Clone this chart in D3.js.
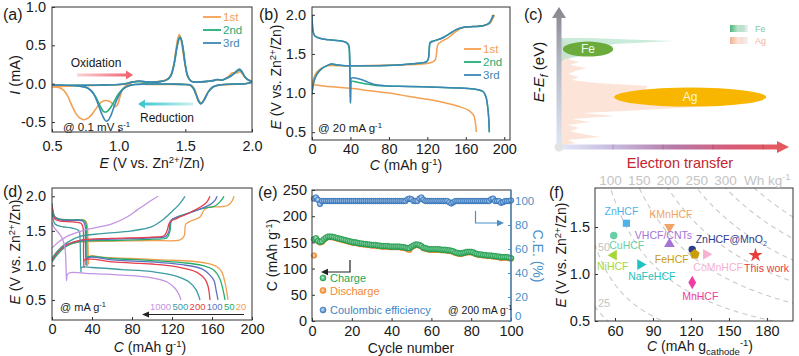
<!DOCTYPE html>
<html><head><meta charset="utf-8">
<script src="https://cdn.jsdelivr.net/npm/d3@7/dist/d3.min.js"></script>
<style>html,body{margin:0;padding:0;background:#fff;}svg{display:block;}</style>
</head><body>
<svg id="fig" width="799" height="356" xmlns="http://www.w3.org/2000/svg"></svg>
<script>
// ================= DATA =================
// (a) cyclic voltammetry [E (V), I (mA)] in sweep order
const cvCycle1 = [[1.10,0.0],[1.06,-0.02],[1.03,-0.07],[1.01,-0.17],[0.99,-0.28],[0.975,-0.30],[0.96,-0.27],[0.93,-0.23],[0.90,-0.22],[0.87,-0.24],[0.84,-0.30],[0.80,-0.40],[0.77,-0.45],[0.74,-0.47],[0.71,-0.45],[0.68,-0.39],[0.65,-0.29],[0.62,-0.17],[0.59,-0.09],[0.55,-0.05],[0.50,-0.04],
  [0.55,-0.035],[0.65,-0.03],[0.75,-0.025],[0.85,-0.02],[0.95,-0.015],[1.02,-0.01],[1.08,0.01],[1.14,0.03],[1.20,0.02],[1.28,0.025],[1.34,0.04],[1.38,0.08],[1.41,0.22],[1.43,0.45],[1.445,0.60],[1.455,0.64],[1.465,0.60],[1.48,0.44],[1.50,0.22],[1.52,0.08],[1.55,0.03],[1.62,0.02],[1.70,0.04],[1.75,0.05],[1.78,0.05],[1.82,0.09],[1.85,0.14],[1.87,0.14],[1.89,0.14],[1.91,0.16],[1.93,0.12],[1.96,0.06],[2.0,0.03],
  [1.95,0.0],[1.85,-0.01],[1.75,-0.02],[1.70,-0.05],[1.67,-0.11],[1.645,-0.20],[1.625,-0.25],[1.61,-0.24],[1.59,-0.17],[1.57,-0.07],[1.55,-0.03],[1.50,-0.01],[1.40,-0.01],[1.30,-0.01],[1.20,-0.01]];
const cvCycle2 = [[0.5,-0.02],[0.6,-0.02],[0.7,-0.02],[0.8,-0.02],[0.9,-0.015],[1.0,-0.01],[1.05,0.0],[1.1,0.02],[1.15,0.03],[1.2,0.02],[1.27,0.02],[1.32,0.03],[1.36,0.05],[1.39,0.1],[1.415,0.25],[1.435,0.46],[1.45,0.58],[1.46,0.61],[1.47,0.58],[1.485,0.44],[1.50,0.25],[1.52,0.09],[1.545,0.03],[1.6,0.02],[1.66,0.03],[1.71,0.04],[1.74,0.055],[1.77,0.045],[1.81,0.07],[1.85,0.11],[1.88,0.15],[1.905,0.18],[1.925,0.15],[1.95,0.08],[1.98,0.04],[2.0,0.02],
  [1.95,0.0],[1.85,-0.005],[1.76,-0.015],[1.71,-0.04],[1.675,-0.10],[1.65,-0.18],[1.63,-0.24],[1.615,-0.26],[1.60,-0.23],[1.58,-0.14],[1.56,-0.06],[1.54,-0.02],[1.5,-0.01],[1.4,-0.005],[1.3,-0.005],[1.2,-0.005],[1.12,-0.01],[1.07,-0.03],[1.03,-0.07],[1.0,-0.13],[0.97,-0.22],[0.94,-0.31],[0.915,-0.36],[0.9,-0.37],[0.885,-0.36],[0.86,-0.29],[0.83,-0.18],[0.8,-0.10],[0.76,-0.05],[0.7,-0.03],[0.6,-0.02],[0.5,-0.02]];
const cvCycle3 = [[0.5,-0.02],[0.6,-0.02],[0.7,-0.02],[0.8,-0.02],[0.9,-0.015],[1.0,-0.01],[1.05,0.0],[1.1,0.02],[1.16,0.035],[1.2,0.025],[1.27,0.02],[1.32,0.03],[1.36,0.05],[1.39,0.1],[1.415,0.25],[1.435,0.45],[1.45,0.57],[1.46,0.60],[1.47,0.57],[1.485,0.43],[1.50,0.24],[1.52,0.09],[1.545,0.03],[1.6,0.02],[1.66,0.03],[1.71,0.04],[1.74,0.055],[1.77,0.045],[1.81,0.07],[1.85,0.11],[1.88,0.16],[1.905,0.19],[1.925,0.16],[1.95,0.08],[1.98,0.04],[2.0,0.02],
  [1.95,0.0],[1.85,-0.005],[1.76,-0.015],[1.71,-0.04],[1.675,-0.10],[1.65,-0.18],[1.63,-0.24],[1.615,-0.265],[1.60,-0.23],[1.58,-0.14],[1.56,-0.06],[1.54,-0.02],[1.5,-0.01],[1.4,-0.005],[1.3,-0.005],[1.2,-0.005],[1.12,-0.01],[1.07,-0.03],[1.03,-0.08],[1.0,-0.16],[0.97,-0.28],[0.945,-0.40],[0.925,-0.47],[0.91,-0.49],[0.895,-0.47],[0.87,-0.38],[0.84,-0.24],[0.81,-0.13],[0.77,-0.06],[0.7,-0.03],[0.6,-0.02],[0.5,-0.02]];
const cycleLabels = ["1st","2nd","3rd"];
const aXTicks = [0.5,1.0,1.5,2.0];
const aYTicks = [-0.5,0.0,0.5,1.0];

// (b) galvanostatic profiles [C (mAh/g), E (V)]
const b1Charge = [[0,1.1],[2,1.2],[5,1.27],[10,1.32],[16,1.35],[25,1.35],[50,1.35],[90,1.36],[115,1.37],[124,1.39],[128,1.42],[129.5,1.5],[131,1.62],[135,1.66],[142,1.71],[150,1.79],[158,1.84],[168,1.85],[178,1.86],[185,1.89],[188,1.95],[190,2.0]];
const b1Discharge = [[0,1.11],[20,1.08],[40,1.06],[60,1.03],[80,1.0],[100,0.96],[120,0.92],[140,0.87],[155,0.82],[163,0.78],[168,0.72],[170,0.62],[171,0.5]];
const b2Charge = [[0,1.0],[0.8,1.08],[2.5,1.17],[5,1.24],[9,1.3],[14,1.34],[20,1.37],[26,1.36],[35,1.35],[60,1.35],[90,1.36],[110,1.38],[119,1.4],[121,1.44],[122,1.57],[123,1.65],[128,1.67],[135,1.7],[142,1.75],[150,1.81],[158,1.84],[168,1.85],[178,1.86],[184,1.89],[187,1.95],[188,2.0]];
const b2Discharge = [[0,2.0],[0.4,1.88],[1.2,1.78],[3,1.73],[8,1.7],[18,1.68],[28,1.67],[35,1.65],[38,1.61],[39,1.45],[39.5,1.15],[40,0.87],[40.3,1.05],[41,1.15],[46,1.14],[55,1.12],[65,1.1],[75,1.09],[100,1.085],[130,1.075],[155,1.065],[170,1.05],[178,1.02],[181,0.95],[183,0.8],[184,0.65],[184.5,0.5]];
const b3Charge = [[0,0.98],[0.8,1.07],[2.5,1.17],[5,1.24],[9,1.3],[14,1.34],[20,1.37],[26,1.36],[35,1.35],[60,1.35],[90,1.36],[110,1.38],[119,1.4],[121,1.43],[122,1.55],[123,1.64],[128,1.67],[135,1.7],[142,1.75],[150,1.81],[158,1.84],[168,1.85],[178,1.86],[184,1.89],[187,1.95],[189,2.0]];
const b3Discharge = [[0,2.0],[0.4,1.88],[1.2,1.78],[3,1.73],[8,1.7],[18,1.68],[28,1.67],[35,1.65],[38,1.62],[39.2,1.5],[39.6,1.2],[40,0.88],[40.3,1.1],[41,1.19],[46,1.19],[52,1.17],[58,1.14],[65,1.11],[75,1.095],[100,1.085],[130,1.075],[155,1.065],[170,1.05],[178,1.02],[181,0.95],[183,0.8],[184,0.65],[184.5,0.5]];
const bXTicks = [0,40,80,120,160,200];
const bYTicks = [0.5,1.0,1.5,2.0];

// (c) schematic density of states: level index (bottom->top) and relative intensity
const cLevels = [0,1,2,3,4,5,6,7,8,9,10,11,12,13,14,15,16,17,18,19,20,21,22,23,24,25,26,27,28,29,30,31,32,33,34,35,36];
const agDos = [0,0.08,0.04,0.22,0.12,0.05,0.10,0.04,0.16,0.06,0.30,0.12,0.45,0.75,0.82,0.80,0.72,0.70,0.55,0.47,0.48,0.20,0.06,0.10,0.04,0.08,0.14,0.05,0.10,0.04,0.07,0.03,0.06,0.03,0.05,0.02,0];
const feDos = [0,0,0,0,0,0,0,0,0,0,0,0,0,0,0,0,0,0,0,0,0,0,0,0,0,0,0,0,0,0.02,0.12,0.18,0.20,0.22,0.30,0.62,0.15];
const cOrbitalNames = ["Fe","Ag"];
const cOrbitalLevel = [32.3,16.3];
const cOrbitalFrom = [0.01,0.295];
const cOrbitalTo = [0.29,1.14];

// (d) rate profiles [C, E]
const dRates = ["1000","500","200","100","50","20"];
const charge1000 = [[0,1.25],[5,1.32],[15,1.42],[30,1.5],[45,1.55],[60,1.6],[75,1.7],[85,1.8],[95,1.9],[106,2.0]];
const discharge1000 = [[0,1.62],[2,1.55],[6,1.48],[10,1.4],[13,1.25],[14,1.0],[14.5,0.78],[15,0.85],[17,0.89],[40,0.88],[70,0.86],[100,0.82],[115,0.76],[123,0.67],[127,0.58],[129,0.5]];
const charge500 = [[0,1.1],[5,1.2],[15,1.33],[28,1.42],[50,1.46],[80,1.5],[100,1.56],[110,1.65],[120,1.78],[127,1.88],[133,2.0]];
const discharge500 = [[0,1.8],[1,1.68],[3,1.6],[10,1.56],[20,1.54],[27,1.5],[28,1.4],[28.5,1.1],[29,0.9],[29.5,0.97],[40,0.97],[70,0.94],[100,0.91],[125,0.84],[138,0.75],[144,0.65],[148,0.5]];
const charge200 = [[0,1.08],[5,1.18],[15,1.3],[30,1.37],[60,1.39],[100,1.41],[112,1.43],[115,1.5],[118,1.63],[125,1.68],[140,1.78],[150,1.86],[155,1.92],[158,2.0]];
const discharge200 = [[0,1.86],[1,1.74],[3,1.67],[8,1.64],[20,1.63],[29,1.61],[31,1.55],[31.5,1.2],[32,0.97],[32.5,1.08],[40,1.09],[60,1.05],[100,1.02],[125,0.98],[145,0.9],[153,0.8],[156,0.7],[158,0.5]];
const charge100 = [[0,1.08],[5,1.18],[15,1.3],[30,1.36],[60,1.38],[100,1.4],[114,1.42],[117,1.5],[119,1.65],[130,1.72],[145,1.8],[158,1.88],[163,1.94],[165,2.0]];
const discharge100 = [[0,1.88],[1,1.76],[3,1.69],[8,1.66],[20,1.65],[31,1.64],[33,1.58],[33.5,1.3],[34,1.0],[34.5,1.1],[40,1.12],[60,1.08],[100,1.05],[130,1.01],[150,0.95],[158,0.86],[162,0.78],[164,0.65],[166,0.5]];
const charge50 = [[0,1.05],[5,1.15],[15,1.28],[30,1.35],[60,1.36],[100,1.38],[115,1.4],[118,1.5],[120,1.66],[135,1.75],[150,1.82],[163,1.86],[168,1.92],[172,2.0]];
const discharge50 = [[0,1.9],[1,1.78],[3,1.7],[8,1.67],[20,1.66],[32,1.65],[34,1.6],[34.8,1.3],[35,1.0],[35.5,1.12],[40,1.13],[60,1.1],[100,1.07],[130,1.04],[150,1.0],[162,0.93],[168,0.8],[171,0.65],[173,0.5]];
const charge20 = [[0,1.08],[5,1.2],[15,1.3],[30,1.34],[60,1.35],[100,1.36],[128,1.37],[132,1.42],[134,1.6],[140,1.65],[148,1.7],[152,1.8],[156,1.84],[170,1.85],[176,1.87],[180,1.93],[182,2.0]];
const discharge20 = [[0,1.9],[1,1.78],[3,1.7],[8,1.67],[20,1.66],[33,1.65],[35,1.6],[36,1.3],[36.5,1.02],[37,1.12],[40,1.14],[50,1.12],[80,1.1],[110,1.08],[140,1.06],[155,1.03],[165,0.98],[170,0.9],[173,0.75],[175,0.6],[176,0.5]];
const dXTicks = [0,40,80,120,160,200];
const dYTicks = [0.5,1.0,1.5,2.0];

// (e) cycling at 200 mA/g
const eCycles = d3.range(1,101);
const eCharge = [156,158,153,151,152,156,159,161,161,161, 160,159,158,157,156,155,154,153,152,151, 150,150,149,148,148,147,147,146,146,145, 145,145,144,144,143,143,143,143,142,142,
  142,142,142,142,141,141,140,139,139,142, 144,146,146,145,143,140,139,138,137,137, 137,137,137,137,136,136,136,135,135,134, 133,131,130,129,129,130,131,132,132,132,
  131,129,128,127,127,126,126,125,125,125, 124,124,123,123,122,122,122,122,121,120];
const eDischarge = [125,157,152,150,151,155,158,160,160,160, 159,158,157,156,155,154,153,152,151,150, 149,149,148,147,147,146,146,145,145,144, 144,144,143,143,142,142,142,142,141,141,
  141,141,141,141,140,140,139,137,136,141, 143,145,145,144,142,139,138,137,136,136, 136,136,136,136,135,135,135,134,134,133, 132,130,129,128,128,129,130,131,131,131,
  130,128,127,126,126,125,125,124,124,124, 123,123,122,122,120,121,121,121,120,119];
const eCE = [102,103,101,97.5,100,100,100,100,100,100, 100,100,100,100,100,100,100,100,100,100, 100,100,100,100,100,100,100,100,100,100, 100,100,100,100,100,100,100,100,100,100,
  100,100,100,100,100,100,100,101.5,102,101.5, 100,100,100,102,103,101,100,100,100,100, 100,100,100,100,100,100,100,100,99,98, 99,100,100,100,100,100,100,100,100,100,
  100,100,100,100,100,100,100,100,100,101.5, 102,100,100,100,98.5,99,100,100,100,100.5];
const eXTicks = [0,20,40,60,80,100];
const eYTicks = [0,50,100,150,200,250];
const eY2Ticks = [0,20,40,60,80,100];
const eLegend = ["Charge","Discharge","Coulombic efficiency"];

// (f) comparison of cathodes
const fNames = ["ZnHCF","KMnHCF","CuHCF","VHCF/CNTs","ZnHCF@MnO2","FeHCF","CoMnHCF","This work","NiHCF","NaFeHCF","MnHCF"];
const fCapacity = [69,103,59,103,121,123,132,171,59,80,121];
const fVoltage = [1.54,1.50,1.41,1.32,1.26,1.21,1.21,1.20,1.20,1.10,0.91];
const fEnergyLevels = [25,50,100,150,200,250,300,350];
const fTopLabels = [100,150,200,250,300];
const fXTicks = [60,90,120,150,180];
const fYTicks = [0.5,1.0,1.5];

// ================= STYLES =================
const FONT = '"Liberation Sans", Arial, Helvetica, sans-serif';
const cycColors = ["#f4a052","#22ae78","#3d86b6"];
const rateColors = {"1000":"#c394e3","500":"#3b9ca2","200":"#e63e4a","100":"#6070c2","50":"#22ad6c","20":"#f2a04e"};
const fStyle = {
  "ZnHCF":{shape:"square",color:"#4fb3ea",lab:[-5,-12]},
  "KMnHCF":{shape:"down",color:"#f2a366",lab:[1.5,-12.5]},
  "CuHCF":{shape:"circle",color:"#66d1a6",lab:[13,10]},
  "VHCF/CNTs":{shape:"up",color:"#a474d8",lab:[-6,-9]},
  "ZnHCF@MnO2":{shape:"circle",color:"#2f3b8e",lab:[39,-10]},
  "FeHCF":{shape:"pentagon",color:"#c99d0a",lab:[-23,5]},
  "CoMnHCF":{shape:"right",color:"#f6b0d2",lab:[12,13]},
  "This work":{shape:"star",color:"#e83c3c",lab:[11,13.5]},
  "NiHCF":{shape:"left",color:"#a6d83c",lab:[-1,11]},
  "NaFeHCF":{shape:"right",color:"#22c2c2",lab:[11.5,12]},
  "MnHCF":{shape:"diamond",color:"#f03ca2",lab:[8,14]}
};

// ================= HELPERS =================
const svg = d3.select("#fig");
svg.append("rect").attr("width",799).attr("height",356).attr("fill","#fff");
const defs = svg.append("defs");
let clipN = 0;

function rich(parent, x, y, parts, o) {
  o = o || {};
  const size = o.size || 14;
  const t = parent.append("text").attr("font-family", FONT).attr("font-size", size)
    .attr("fill", o.fill || "#1a1a1a").attr("text-anchor", o.anchor || "middle");
  if (o.rotate) t.attr("transform", `translate(${x},${y}) rotate(${o.rotate})`);
  else t.attr("x", x).attr("y", y);
  let cur = 0;
  parts.forEach(p => {
    if (typeof p === "string") p = {t: p};
    const target = p.sup ? -size * 0.36 : (p.sub ? size * 0.28 : 0);
    const s = t.append("tspan").text(p.t).attr("dy", (target - cur).toFixed(2));
    cur = target;
    if (p.sup || p.sub) s.attr("font-size", (size * 0.68).toFixed(1));
    if (p.i) s.attr("font-style", "italic");
  });
  return t;
}
function panel(b, xd, yd) {
  const x = d3.scaleLinear().domain(xd).range([b.l, b.r]);
  const y = d3.scaleLinear().domain(yd).range([b.b, b.t]);
  const g = svg.append("g");
  const id = "clip" + (++clipN);
  defs.append("clipPath").attr("id", id).append("rect")
    .attr("x", b.l).attr("y", b.t).attr("width", b.r - b.l).attr("height", b.b - b.t);
  const plot = g.append("g").attr("clip-path", `url(#${id})`);
  return {x, y, g, plot, b};
}
function frame(P) {
  P.g.append("rect").attr("x", P.b.l).attr("y", P.b.t).attr("width", P.b.r - P.b.l)
    .attr("height", P.b.b - P.b.t).attr("fill", "none").attr("stroke", "#333").attr("stroke-width", 1);
}
function styleAxis(sel, color, size) {
  sel.select(".domain").remove();
  sel.selectAll("line").attr("stroke", color || "#333");
  sel.selectAll("text").attr("font-family", FONT).attr("font-size", size || 14.5).attr("fill", color || "#1a1a1a");
}
function axes(P, xt, yt, xf, yf, padB, padL) {
  P.g.append("g").attr("transform", `translate(0,${P.b.b})`)
    .call(d3.axisBottom(P.x).tickValues(xt).tickFormat(xf).tickSize(-3).tickPadding(padB))
    .call(s => styleAxis(s));
  P.g.append("g").attr("transform", `translate(${P.b.l},0)`)
    .call(d3.axisLeft(P.y).tickValues(yt).tickFormat(yf).tickSize(-3).tickPadding(padL))
    .call(s => styleAxis(s));
}
function lineOf(P) {
  return d3.line().x(d => P.x(d[0])).y(d => P.y(d[1])).curve(d3.curveCatmullRom.alpha(0.5));
}
function panelLetter(x, y, t) {
  svg.append("text").attr("x", x).attr("y", y).attr("font-family", FONT).attr("font-size", 16)
    .attr("fill", "#1a1a1a").text(t);
}
const f1 = d => d.toFixed(1);
const EZn = [{t:"E",i:true}," (V vs. Zn",{t:"2+",sup:true},"/Zn)"];
const CmAh = [{t:"C",i:true}," (mAh g",{t:"-1",sup:true},")"];

// ================= (a) =================
{
  const P = panel({l:52, r:252, t:7, b:132}, [0.5, 2.0], [-0.63, 1.0]);
  const ln = lineOf(P);
  [cvCycle1, cvCycle2, cvCycle3].forEach((d, i) => {
    P.plot.append("path").attr("d", ln(d)).attr("fill", "none")
      .attr("stroke", cycColors[i]).attr("stroke-width", 1.6).attr("stroke-linejoin", "round");
  });
  frame(P);
  axes(P, aXTicks, aYTicks, f1, f1, 9, 6);
  cycleLabels.forEach((lab, i) => {
    const yy = [17, 30, 43][i];
    P.g.append("line").attr("x1", 203).attr("x2", 221).attr("y1", yy).attr("y2", yy)
      .attr("stroke", cycColors[i]).attr("stroke-width", 1.8);
    P.g.append("text").attr("x", 223).attr("y", yy + 4).attr("font-family", FONT).attr("font-size", 11.5)
      .attr("fill", cycColors[i]).text(lab);
  });
  const gOx = defs.append("linearGradient").attr("id", "gOx");
  gOx.append("stop").attr("offset", 0).attr("stop-color", "#fbd3d8");
  gOx.append("stop").attr("offset", 1).attr("stop-color", "#ef5d6a");
  P.g.append("path").attr("d", "M77,73.6 H126 V70.5 L133,75 L126,79.5 V76.4 H77 Z").attr("fill", "url(#gOx)");
  P.g.append("text").attr("x", 96).attr("y", 66.5).attr("text-anchor", "middle").attr("font-family", FONT)
    .attr("font-size", 12).attr("fill", "#1a1a1a").text("Oxidation");
  const gRe = defs.append("linearGradient").attr("id", "gRe");
  gRe.append("stop").attr("offset", 0).attr("stop-color", "#36c4cc");
  gRe.append("stop").attr("offset", 1).attr("stop-color", "#c8f1f1");
  P.g.append("path").attr("d", "M193,102.6 H145 V99.5 L138,104 L145,108.5 V105.4 H193 Z").attr("fill", "url(#gRe)");
  P.g.append("text").attr("x", 167).attr("y", 121.5).attr("text-anchor", "middle").attr("font-family", FONT)
    .attr("font-size", 12).attr("fill", "#1a1a1a").text("Reduction");
  rich(P.g, 63, 131, ["@ 0.1 mV s", {t:"-1", sup:true}], {size:11.5, anchor:"start"});
  rich(P.g, 20, 75, [{t:"I", i:true}, " (mA)"], {size:14.5, rotate:-90});
  rich(P.g, 152, 168, EZn, {size:14});
  panelLetter(3, 20, "(a)");
}

// ================= (b) =================
{
  const P = panel({l:312, r:510, t:7, b:140}, [0, 206], [0.4, 2.1]);
  const ln = lineOf(P);
  const sets = [[b1Charge, b1Discharge], [b2Charge, b2Discharge], [b3Charge, b3Discharge]];
  sets.forEach((s, i) => s.forEach(d => {
    P.plot.append("path").attr("d", ln(d)).attr("fill", "none")
      .attr("stroke", cycColors[i]).attr("stroke-width", 1.5).attr("stroke-linejoin", "round");
  }));
  frame(P);
  axes(P, bXTicks, bYTicks, d3.format("d"), f1, 4, 6);
  cycleLabels.forEach((lab, i) => {
    const yy = [49, 62, 75][i];
    P.g.append("line").attr("x1", 464).attr("x2", 481).attr("y1", yy).attr("y2", yy)
      .attr("stroke", cycColors[i]).attr("stroke-width", 1.8);
    P.g.append("text").attr("x", 483).attr("y", yy + 4).attr("font-family", FONT).attr("font-size", 11.5)
      .attr("fill", cycColors[i]).text(lab);
  });
  rich(P.g, 318, 132, ["@ 20 mA g", {t:"-1", sup:true}], {size:11.5, anchor:"start"});
  rich(P.g, 281, 77, EZn, {size:14, rotate:-90});
  rich(P.g, 406, 170, CmAh, {size:14});
  panelLetter(259, 20, "(b)");
}

// ================= (c) =================
{
  const g = svg.append("g");
  const cx = d3.scaleLinear().domain([0, 1]).range([561, 741]);
  const cy = d3.scaleLinear().domain([0, 36]).range([146, 38]);
  const area = d3.area().y(d => cy(d[0])).x0(cx(0)).x1(d => cx(d[1])).curve(d3.curveLinear);
  g.append("path").attr("d", area(cLevels.map((l, i) => [l, agDos[i]])))
    .attr("fill", "#f9cdb8").attr("opacity", 0.55);
  g.append("path").attr("d", area(cLevels.map((l, i) => [l, feDos[i]])))
    .attr("fill", "#b4e2cb").attr("opacity", 0.7);
  const gV = defs.append("linearGradient").attr("id", "gV").attr("x1", 0).attr("y1", 1).attr("x2", 0).attr("y2", 0);
  gV.append("stop").attr("offset", 0).attr("stop-color", "#dfe6f6");
  gV.append("stop").attr("offset", 0.6).attr("stop-color", "#b4b8c6");
  gV.append("stop").attr("offset", 1).attr("stop-color", "#86868c");
  const gH = defs.append("linearGradient").attr("id", "gH");
  [["0","#e2e9f8"],["0.25","#c6b7dc"],["0.5","#b67aa8"],["0.75","#d75c79"],["1","#e65858"]]
    .forEach(s => gH.append("stop").attr("offset", s[0]).attr("stop-color", s[1]));
  g.append("path").attr("d", "M559,144.5 H777 V141 L789,147 L777,153 V149.5 H559 Z").attr("fill", "url(#gH)");
  [613, 663, 713, 763].forEach(xx => g.append("line").attr("x1", xx).attr("x2", xx)
    .attr("y1", 144.5).attr("y2", 149.5).attr("stroke", "#7a3050").attr("stroke-opacity", 0.3).attr("stroke-width", 1));
  g.append("path").attr("d", "M556.5,147 V18 H552 L559,7 L566,18 H561.5 V147 Z").attr("fill", "url(#gV)");
  g.append("circle").attr("cx", 559).attr("cy", 147).attr("r", 4.5).attr("fill", "#e3e3e6");
  const ell = [{c:"#6aab3b", tc:"#f3f8ee"}, {c:"#f8b600", tc:"#fff6dc"}];
  cOrbitalNames.forEach((n, i) => {
    const x0 = cx(cOrbitalFrom[i]), x1 = cx(cOrbitalTo[i]);
    const ry = i === 0 ? 7.5 : 9.5;
    g.append("ellipse").attr("cx", (x0 + x1) / 2).attr("cy", cy(cOrbitalLevel[i]))
      .attr("rx", (x1 - x0) / 2).attr("ry", ry).attr("fill", ell[i].c);
    g.append("text").attr("x", (x0 + x1) / 2).attr("y", cy(cOrbitalLevel[i]) + 4.3).attr("text-anchor", "middle")
      .attr("font-family", FONT).attr("font-size", 12).attr("fill", ell[i].tc).text(n);
  });
  const lg = [["#4cb47c", "#86c6a4", 25], ["#f4b096", "#efb59e", 37]];
  cOrbitalNames.forEach((n, i) => {
    const gid = "gL" + i;
    const gr = defs.append("linearGradient").attr("id", gid);
    gr.append("stop").attr("offset", 0).attr("stop-color", lg[i][0]);
    gr.append("stop").attr("offset", 0.45).attr("stop-color", lg[i][0]).attr("stop-opacity", 0.35);
    gr.append("stop").attr("offset", 1).attr("stop-color", "#f4f4fa");
    g.append("rect").attr("x", 730).attr("y", lg[i][2]).attr("width", 18).attr("height", 7).attr("fill", `url(#${gid})`);
    g.append("text").attr("x", 755).attr("y", lg[i][2] + 7).attr("font-family", FONT).attr("font-size", 9)
      .attr("fill", lg[i][1]).text(n);
  });
  rich(g, 544, 72, [{t:"E",i:true}, "-", {t:"E",i:true}, {t:"f",i:true,sub:true}, " (eV)"], {size:15, rotate:-90});
  g.append("text").attr("x", 680).attr("y", 168).attr("text-anchor", "middle").attr("font-family", FONT)
    .attr("font-size", 14.5).attr("fill", "#c3262f").text("Electron transfer");
  panelLetter(524, 20, "(c)");
}

// ================= (d) =================
{
  const P = panel({l:52, r:252, t:188, b:320}, [0, 200], [0.21, 2.12]);
  const ln = lineOf(P);
  const ch = {"1000":charge1000,"500":charge500,"200":charge200,"100":charge100,"50":charge50,"20":charge20};
  const di = {"1000":discharge1000,"500":discharge500,"200":discharge200,"100":discharge100,"50":discharge50,"20":discharge20};
  dRates.slice().reverse().forEach(r => {
    [ch[r], di[r]].forEach(d => P.plot.append("path").attr("d", ln(d)).attr("fill", "none")
      .attr("stroke", rateColors[r]).attr("stroke-width", 1.3).attr("stroke-linejoin", "round"));
  });
  frame(P);
  axes(P, dXTicks, dYTicks, d3.format("d"), f1, 4, 6);
  const t = P.g.append("text").attr("x", 150).attr("y", 310).attr("font-family", FONT).attr("font-size", 9.5);
  dRates.forEach((r, i) => t.append("tspan").attr("fill", rateColors[r]).attr("dx", i ? 1.3 : 0).text(r));
  P.g.append("path").attr("d", "M244,314.5 H148").attr("stroke", "#222").attr("stroke-width", 1.2);
  P.g.append("path").attr("d", "M142,314.5 L149,311.5 L149,317.5 Z").attr("fill", "#222");
  rich(P.g, 60, 311, ["@ mA g", {t:"-1", sup:true}], {size:11, anchor:"start"});
  rich(P.g, 20, 252, EZn, {size:14, rotate:-90});
  rich(P.g, 150, 352, CmAh, {size:14});
  panelLetter(3, 197, "(d)");
}

// ================= (e) =================
{
  const P = panel({l:312, r:511, t:190, b:321}, [0, 100], [0, 250]);
  const y2 = d3.scaleLinear().domain([0, 109.2]).range([321, 190]);
  const grads = [["gG","#bdebc9","#1f9f52"],["gO","#ffd9b0","#ef8424"],["gB","#cfe3f5","#3877c0"]];
  grads.forEach(a => {
    const rg = defs.append("radialGradient").attr("id", a[0]).attr("cx", "45%").attr("cy", "45%").attr("r", "55%");
    rg.append("stop").attr("offset", 0).attr("stop-color", a[1]);
    rg.append("stop").attr("offset", 1).attr("stop-color", a[2]);
  });
  const dot = (sel, fill, stroke) => sel.attr("r", 2.8).attr("fill", fill).attr("stroke", stroke).attr("stroke-width", 0.6);
  P.g.append("g").selectAll("circle").data(eCycles).join("circle")
    .attr("cx", d => P.x(d)).attr("cy", (d, i) => y2(eCE[i])).call(s => dot(s, "url(#gB)", "#3270b5"));
  P.g.append("g").selectAll("circle").data(eCycles).join("circle")
    .attr("cx", d => P.x(d)).attr("cy", (d, i) => P.y(eDischarge[i])).call(s => dot(s, "url(#gO)", "#e57d20"));
  P.g.append("g").selectAll("circle").data(eCycles).join("circle")
    .attr("cx", d => P.x(d)).attr("cy", (d, i) => P.y(eCharge[i])).call(s => dot(s, "url(#gG)", "#1c9a4d"));
  frame(P);
  axes(P, eXTicks, eYTicks, d3.format("d"), d3.format("d"), 5, 5);
  const blue = "#4a90c8";
  P.g.append("line").attr("x1", 511).attr("x2", 511).attr("y1", 190).attr("y2", 321).attr("stroke", blue).attr("stroke-width", 1.2);
  P.g.append("g").attr("transform", "translate(511,0)")
    .call(d3.axisRight(y2).tickValues(eY2Ticks).tickFormat(d3.format("d")).tickSize(-3).tickPadding(4))
    .call(s => styleAxis(s, blue, 11.5))
    .call(s => s.selectAll("text").attr("dy", d => d === 0 ? "-0.12em" : "0.28em"));
  P.g.append("path").attr("d", "M350,260 V272 H327").attr("fill", "none").attr("stroke", "#222").attr("stroke-width", 1.2);
  P.g.append("path").attr("d", "M321,272 L328,268.8 L328,275.2 Z").attr("fill", "#222");
  P.g.append("path").attr("d", "M475.5,211 V223 H498").attr("fill", "none").attr("stroke", blue).attr("stroke-width", 1.2);
  P.g.append("path").attr("d", "M504,223 L497,219.8 L497,226.2 Z").attr("fill", blue);
  const legC = [["url(#gG)","#1c9a4d","#22a85a"],["url(#gO)","#e57d20","#f08a36"],["url(#gB)","#3270b5","#3a86c8"]];
  eLegend.forEach((n, i) => {
    const yy = [278, 290.5, 310][i];
    P.g.append("circle").attr("cx", 323).attr("cy", yy).call(s => dot(s, legC[i][0], legC[i][1])).attr("r", 3);
    P.g.append("text").attr("x", 330).attr("y", yy + 4).attr("font-family", FONT).attr("font-size", 11)
      .attr("fill", legC[i][2]).text(n);
  });
  rich(P.g, 448, 314, ["@ 200 mA g", {t:"-1", sup:true}], {size:10.5, anchor:"start"});
  rich(P.g, 277, 255, ["C (mAh g", {t:"-1", sup:true}, ")"], {size:14, rotate:-90});
  rich(P.g, 533, 256, ["C.E. (%)"], {size:14, rotate:90, fill:blue});
  P.g.append("text").attr("x", 411).attr("y", 352.5).attr("text-anchor", "middle").attr("font-family", FONT)
    .attr("font-size", 14).attr("fill", "#1a1a1a").text("Cycle number");
  panelLetter(258, 198, "(e)");
}

// ================= (f) =================
{
  const P = panel({l:595, r:793, t:188, b:321}, [44.2, 200.6], [0.5, 1.915]);
  const isoE = (k, C) => 0.87 * k / (C - 11);
  const Cs = d3.range(44, 202, 1);
  const iso = d3.line().x(d => P.x(d[0])).y(d => P.y(d[1]));
  fEnergyLevels.forEach(k => {
    P.plot.append("path").attr("d", iso(Cs.map(c => [c, isoE(k, c)])))
      .attr("fill", "none").attr("stroke", "#cacaca").attr("stroke-width", 1.1).attr("stroke-dasharray", "5,4");
  });
  const gray = "#c4c4c4";
  fTopLabels.forEach(k => {
    const cTop = 0.87 * k / 1.915 + 11;
    svg.append("text").attr("x", P.x(cTop)).attr("y", 185).attr("text-anchor", "middle")
      .attr("font-family", FONT).attr("font-size", 13.5).attr("fill", gray).text(k);
  });
  rich(svg, 744, 185, ["Wh kg", {t:"-1", sup:true}], {size:13.5, anchor:"start", fill:gray});
  P.g.append("text").attr("x", 598).attr("y", 251).attr("font-family", FONT).attr("font-size", 11).attr("fill", gray).text("50");
  P.g.append("text").attr("x", 598).attr("y", 307).attr("font-family", FONT).attr("font-size", 11).attr("fill", gray).text("25");
  const rot = {up:0, down:180, left:-90, right:90};
  const symPath = shape => {
    switch (shape) {
      case "square": return d3.symbol(d3.symbolSquare, 52)();
      case "circle": return d3.symbol(d3.symbolCircle, 44)();
      case "diamond": return d3.symbol(d3.symbolDiamond, 52)();
      case "star": return d3.symbol(d3.symbolStar, 62)();
      case "pentagon": {
        const r = 5.2;
        return "M" + d3.range(5).map(i => { const a = -Math.PI / 2 + i * 2 * Math.PI / 5;
          return (r * Math.cos(a)).toFixed(2) + "," + (r * Math.sin(a)).toFixed(2); }).join("L") + "Z";
      }
      default: return d3.symbol(d3.symbolTriangle, 50)();
    }
  };
  fNames.forEach((n, i) => {
    const st = fStyle[n];
    const px = P.x(fCapacity[i]), py = P.y(fVoltage[i]);
    P.g.append("path").attr("d", symPath(st.shape))
      .attr("transform", `translate(${px},${py}) rotate(${rot[st.shape] || 0})`).attr("fill", st.color);
    const parts = n === "ZnHCF@MnO2" ? ["ZnHCF@MnO", {t:"2", sub:true}] : [n];
    rich(P.g, px + st.lab[0], py + st.lab[1] + 3.7, parts, {size:10.5, fill:st.color});
  });
  frame(P);
  axes(P, fXTicks, fYTicks, d3.format("d"), f1, 5, 5);
  rich(P.g, 566, 255, EZn, {size:14, rotate:-90});
  rich(P.g, 700, 351, [{t:"C",i:true}, " (mAh g", {t:"cathode",sub:true}, {t:"-1",sup:true}, ")"], {size:14});
  panelLetter(549, 198, "(f)");
}
</script>
</body></html>
